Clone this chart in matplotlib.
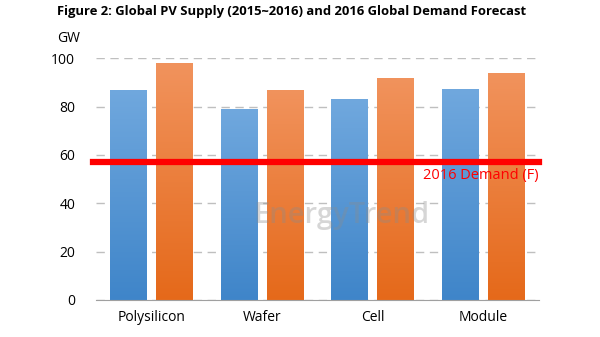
import numpy as np
import matplotlib.pyplot as plt
from matplotlib.colors import LinearSegmentedColormap

# Datos (GW)
categorias = ['Polysilicon', 'Wafer', 'Cell', 'Module']
suministro_2015 = [87, 79, 83, 87.3]
suministro_2016 = [98, 87, 92, 94]
demanda_2016 = 57
etiqueta_demanda = '2016 Demand (F)'
titulo = 'Figure 2: Global PV Supply (2015~2016) and 2016 Global Demand Forecast'

plt.rcParams['font.family'] = ['Open Sans', 'DejaVu Sans']

fig = plt.figure(figsize=(6, 3.37), dpi=100)
ax = fig.add_axes([0.16, 0.11, 0.738, 0.717])

x = np.arange(len(categorias))
ancho = 0.333
desplaz = 0.207

azul = LinearSegmentedColormap.from_list('azul', ['#3f85c9', '#70a8de'])
naranja = LinearSegmentedColormap.from_list('naranja', ['#e5691a', '#f1935d'])


def barras_degradado(xs, valores, cmap, color):
    barras = ax.bar(xs, valores, width=ancho, color=color, zorder=2)
    grad = np.linspace(0, 1, 256).reshape(-1, 1)
    for b in barras:
        x0, y0 = b.get_x(), b.get_y()
        im = ax.imshow(grad, cmap=cmap, origin='lower', aspect='auto',
                       extent=[x0, x0 + b.get_width(), y0, y0 + b.get_height()],
                       zorder=2.1)
        im.set_clip_path(b)
    return barras


barras_degradado(x - desplaz, suministro_2015, azul, '#5b9bd5')
barras_degradado(x + desplaz, suministro_2016, naranja, '#ed7d31')

# Línea de demanda
ax.axhline(demanda_2016, xmin=-0.007, xmax=1.0, color='#ff0000', lw=4.5,
           zorder=3, clip_on=False)
ax.text(3.5, demanda_2016 - 2.2, etiqueta_demanda, color='#ff0000',
        ha='right', va='top', fontsize=10.5, zorder=4)

# Marca de agua
ax.text(1.72, 35, 'EnergyTrend', color='#8c8c8c', alpha=0.35, fontsize=21,
        fontweight='semibold', ha='center', va='center', zorder=2.5)

ax.set_xlim(-0.5, 3.5)
ax.set_ylim(0, 100)
ax.set_yticks(range(0, 101, 20))
ax.set_xticks(x)
ax.set_xticklabels(categorias)
ax.tick_params(axis='both', length=0, labelsize=10, colors='#000000')
ax.tick_params(axis='y', pad=15)
ax.tick_params(axis='x', pad=7)
ax.yaxis.grid(True, color='#bfbfbf', ls=(0, (6, 4)), lw=1, zorder=0)
ax.set_axisbelow(True)
for lado in ['top', 'right', 'left']:
    ax.spines[lado].set_visible(False)
ax.spines['bottom'].set_color('#a0a0a0')

fig.text(0.095, 0.965, titulo, fontsize=9.4, fontweight='bold', va='center', ha='left')
fig.text(0.095, 0.885, 'GW', fontsize=10, va='center', ha='left')

fig.savefig('out.png', dpi=100)
